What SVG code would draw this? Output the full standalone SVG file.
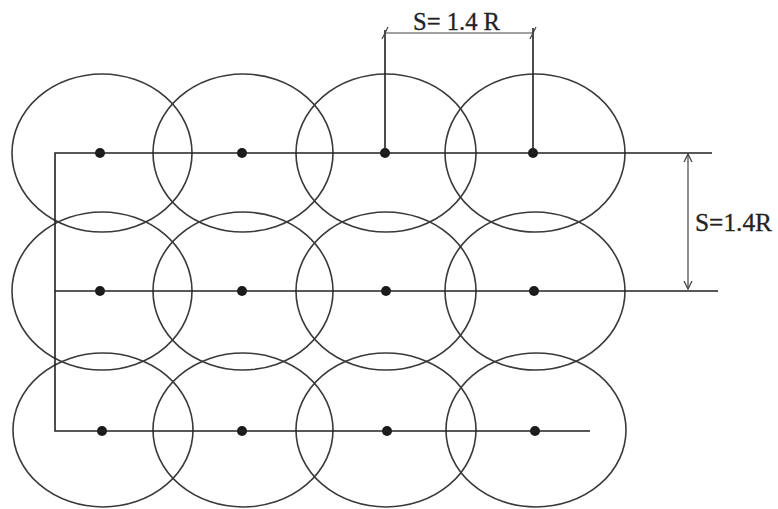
<svg xmlns="http://www.w3.org/2000/svg" width="778" height="509" viewBox="0 0 778 509">
<defs>
<style>
.c{fill:none;stroke:#3a3a3a;stroke-width:1.6}
.l{fill:none;stroke:#222;stroke-width:1.6}
.d{fill:none;stroke:#444;stroke-width:1.2}
.p{fill:#1a1a1a}
.t{font-family:"Liberation Serif","Times New Roman",serif;fill:#222;stroke:#222;stroke-width:0.3}
</style>
<marker id="ah" viewBox="0 0 10 10" refX="9" refY="5" markerWidth="10" markerHeight="10" markerUnits="userSpaceOnUse" orient="auto">
<path d="M1,1 L9,5 L1,9" fill="none" stroke="#444" stroke-width="1.3"/>
</marker>
</defs>
<rect width="778" height="509" fill="#fff"/>
<g id="circles">
<g id="n11"><ellipse class="c" cx="102" cy="153" rx="90" ry="79"/><circle class="p" cx="100" cy="153" r="5"/></g>
<g id="n12"><ellipse class="c" cx="243" cy="153" rx="90" ry="79"/><circle class="p" cx="242" cy="153" r="5"/></g>
<g id="n13"><ellipse class="c" cx="386" cy="153" rx="90" ry="79"/><circle class="p" cx="385" cy="153" r="5"/></g>
<g id="n14"><ellipse class="c" cx="535" cy="153" rx="90" ry="79"/><circle class="p" cx="533" cy="153" r="5"/></g>
<g id="n21"><ellipse class="c" cx="102" cy="291" rx="90" ry="79"/><circle class="p" cx="100" cy="291" r="5"/></g>
<g id="n22"><ellipse class="c" cx="243" cy="291" rx="90" ry="79"/><circle class="p" cx="242" cy="291" r="5"/></g>
<g id="n23"><ellipse class="c" cx="386" cy="291" rx="90" ry="79"/><circle class="p" cx="386" cy="291" r="5"/></g>
<g id="n24"><ellipse class="c" cx="535" cy="291" rx="90" ry="79"/><circle class="p" cx="534" cy="291" r="5"/></g>
<g id="n31"><ellipse class="c" cx="103" cy="430" rx="90" ry="77"/><circle class="p" cx="102" cy="431" r="5"/></g>
<g id="n32"><ellipse class="c" cx="243" cy="430" rx="90" ry="77"/><circle class="p" cx="242" cy="431" r="5"/></g>
<g id="n33"><ellipse class="c" cx="386" cy="430" rx="90" ry="77"/><circle class="p" cx="387" cy="431" r="5"/></g>
<g id="n34"><ellipse class="c" cx="536" cy="430" rx="90" ry="77"/><circle class="p" cx="535" cy="431" r="5"/></g>
</g>
<g id="connectors">
<path class="l" d="M712,153 H55 V431 H590"/>
<path class="l" d="M55,291 H718"/>
<path class="l" d="M385,153 V30 M533,153 V28"/>
<path class="d" d="M385,33 H533"/>
<path class="d" d="M382,39 L388,27 M530,39 L536,27"/>
<path class="d" d="M688,222 V154" marker-end="url(#ah)"/>
<path class="d" d="M688,222 V289" marker-end="url(#ah)"/>
</g>
<g id="labels">
<text class="t" x="413" y="30" font-size="25" textLength="87" lengthAdjust="spacingAndGlyphs">S= 1.4 R</text>
<text class="t" x="695" y="231" font-size="26" textLength="77" lengthAdjust="spacingAndGlyphs">S=1.4R</text>
</g>
</svg>
